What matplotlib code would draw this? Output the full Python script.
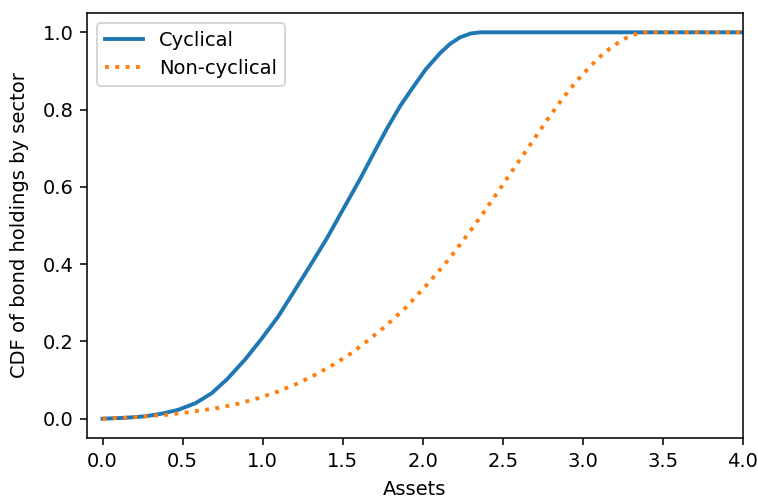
import numpy as np
import matplotlib
matplotlib.use("Agg")
import matplotlib.pyplot as plt

# CDF of bond holdings by sector, read at selected asset levels
assets_cyc = [0.0, 0.13, 0.265, 0.37, 0.473, 0.58, 0.682, 0.78, 0.89, 0.99, 1.098,
              1.20, 1.307, 1.40, 1.50, 1.608, 1.70, 1.775, 1.86, 1.941, 2.02,
              2.108, 2.17, 2.233, 2.30, 2.358, 4.0]
cdf_cyc = [0.000, 0.002, 0.006, 0.013, 0.023, 0.040, 0.066, 0.103, 0.153, 0.205, 0.265,
           0.332, 0.403, 0.466, 0.540, 0.620, 0.692, 0.750, 0.810, 0.859, 0.905,
           0.946, 0.970, 0.987, 0.997, 1.000, 1.000]

assets_non = [0.0, 0.20, 0.401, 0.56, 0.723, 0.85, 0.973, 1.10, 1.223, 1.33, 1.442,
              1.556, 1.65, 1.758, 1.900, 2.035, 2.160, 2.279, 2.391, 2.504, 2.577,
              2.650, 2.722, 2.795, 2.872, 2.953, 3.039, 3.132, 3.237, 3.295, 3.357,
              3.40, 4.0]
cdf_non = [0.000, 0.004, 0.010, 0.018, 0.028, 0.039, 0.053, 0.071, 0.092, 0.114, 0.140,
           0.170, 0.200, 0.236, 0.290, 0.351, 0.411, 0.476, 0.540, 0.608, 0.653,
           0.696, 0.740, 0.784, 0.828, 0.870, 0.909, 0.947, 0.978, 0.991, 0.999,
           1.000, 1.000]

DPI = 140
fig = plt.figure(figsize=(758 / DPI, 500 / DPI), dpi=DPI)
ax = fig.add_axes([87 / 758, 62 / 500, (743 - 87) / 758, (438 - 13) / 500])

ax.plot(assets_cyc, cdf_cyc, color="C0", lw=2, label="Cyclical")
ax.plot(assets_non, cdf_non, color="C1", lw=2, ls=":", label="Non-cyclical")

ax.set_xlim(-0.097, 4.0)
ax.set_ylim(-0.05, 1.05)
ax.set_xticks(np.arange(0, 4.01, 0.5))
ax.set_yticks(np.arange(0, 1.01, 0.2))
ax.set_xlabel("Assets", labelpad=5)
ax.set_ylabel("CDF of bond holdings by sector", labelpad=7)
ax.legend(loc="upper left")

fig.savefig("out.png", dpi=DPI)
